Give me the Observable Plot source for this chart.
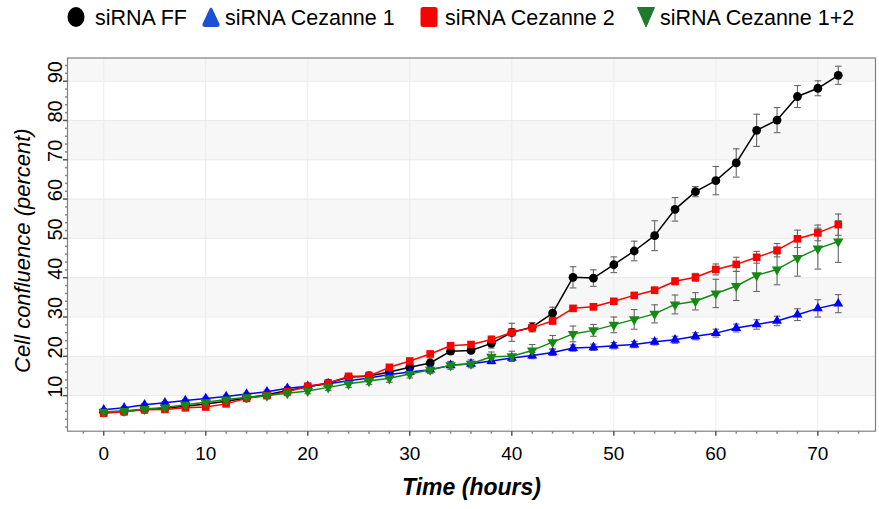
<!DOCTYPE html>
<html><head><meta charset="utf-8">
<script src="https://cdn.jsdelivr.net/npm/d3@7"></script>
<script src="https://cdn.jsdelivr.net/npm/@observablehq/plot@0.6"></script>
<style>
body{margin:0;background:#fff;font-family:"Liberation Sans",Arial,sans-serif;}
#legend{height:36px;position:relative;width:879px;}
#legend .sw{position:absolute;top:7px;}
#legend .tx{position:absolute;top:0;height:36px;line-height:36px;font-size:21.5px;color:#000;white-space:nowrap;}
</style></head><body>
<div id="legend"></div>
<div id="chart"></div>
<script>
// ---- data ----
const times = [0,2,4,6,8,10,12,14,16,18,20,22,24,26,28,30,32,34,36,38,40,42,44,46,48,50,52,54,56,58,60,62,64,66,68,70,72];
const seriesNames = ["siRNA FF","siRNA Cezanne 1","siRNA Cezanne 2","siRNA Cezanne 1+2"];
const ffValues = [5.8,6.0,6.5,6.8,7.3,7.9,8.6,9.4,10.2,11.3,12.2,13.2,14.7,15.0,16.0,17.2,18.3,21.3,21.5,23.3,26.1,27.4,31.0,40.1,39.9,43.3,46.8,50.7,57.4,61.9,64.7,69.2,77.5,80.1,86.1,88.2,91.5];
const ffErrors = [0.3,0.3,0.3,0.3,0.3,0.3,0.3,0.3,0.4,0.4,0.4,0.6,0.8,1.0,0.8,0.8,1.0,0.8,0.8,1.2,2.3,1.2,1.5,2.7,2.1,2.0,2.5,3.8,3.0,1.3,3.6,3.6,4.1,3.2,2.8,1.9,2.3];
const cez1Values = [6.4,6.9,7.7,8.2,8.75,9.3,9.8,10.4,11.0,11.9,12.4,13.0,13.8,14.5,15.4,16.0,16.6,17.7,18.1,18.8,19.6,20.2,21.0,22.1,22.3,22.7,23.0,23.7,24.2,25.1,25.9,27.2,28.1,29.0,30.6,32.2,33.4];
const cez1Errors = [0.3,0.3,0.3,0.3,0.3,0.3,0.3,0.3,0.4,0.4,0.4,0.5,0.5,0.5,0.5,0.5,0.6,0.6,0.6,0.7,0.8,0.8,0.8,0.8,0.8,0.8,0.8,0.8,0.9,0.9,1.0,1.0,1.2,1.2,1.5,2.2,2.3];
const cez2Values = [5.5,5.9,6.4,6.5,6.9,7.1,7.9,9.3,10.0,11.0,12.4,13.2,14.9,15.0,17.2,18.8,20.6,22.7,23.0,24.3,26.1,27.3,29.0,32.2,32.6,34.0,35.5,36.8,39.1,40.1,42.1,43.4,45.2,47.0,49.9,51.4,53.5];
const cez2Errors = [0.3,0.3,0.3,0.3,0.3,0.3,0.3,0.3,0.3,0.4,0.4,0.5,0.6,0.6,0.6,0.7,0.7,0.7,0.7,0.8,0.9,0.8,0.8,0.7,0.8,0.7,0.7,0.8,0.9,1.0,1.4,1.8,1.5,1.7,2.2,2.0,2.7];
const cez12Values = [5.9,6.1,6.6,7.0,7.7,8.3,9.0,9.6,10.0,10.6,11.2,12.1,13.0,13.7,14.4,15.5,16.6,17.7,18.1,19.9,20.0,21.5,23.6,25.7,26.6,28.0,29.4,30.8,33.2,34.0,36.0,37.9,40.6,42.1,45.0,47.4,49.2];
const cez12Errors = [0.3,0.3,0.3,0.3,0.4,0.4,0.4,0.5,0.5,0.6,0.7,0.8,0.9,0.9,1.0,1.0,1.0,1.0,1.0,1.2,1.3,1.5,1.7,2.0,1.5,2.0,2.5,2.3,2.4,2.2,3.6,3.7,4.1,3.9,4.6,5.2,5.3];
const xTicks = [0,10,20,30,40,50,60,70];
const yTicks = [10,20,30,40,50,60,70,80,90];
const bandLo = [10,30,50,70,90];
const bandHi = [20,40,60,80,100];

const colors = ["#000000","#0000ff","#ff0000","#138a13"];
const legendColors = ["#000000","#1a4fd6","#ff0000","#1f7a2e"];

const valueSets = [ffValues,cez1Values,cez2Values,cez12Values];
const errorSets = [ffErrors,cez1Errors,cez2Errors,cez12Errors];
const rows = [];
seriesNames.forEach((s,k)=>times.forEach((t,i)=>rows.push({s, t, v: valueSets[k][i], e: errorSets[k][i]})));

// ---- symbols ----
const sqrt3 = Math.sqrt(3);
const triDown = {draw(ctx,size){const y=-Math.sqrt(size/(sqrt3*3)); ctx.moveTo(0,-y*2); ctx.lineTo(-sqrt3*y,y); ctx.lineTo(sqrt3*y,y); ctx.closePath();}};
const capSym = {draw(ctx,size){ctx.moveTo(-3.3,0); ctx.lineTo(3.3,0);}};
const vTick = (len)=>({draw(ctx){ctx.moveTo(0,0); ctx.lineTo(0,len);}});
const hTick = (len)=>({draw(ctx){ctx.moveTo(0,0); ctx.lineTo(-len,0);}});

const symbols = ["circle","triangle","square",triDown];
const radii = [4.4,3.7,4.3,3.9];
const font = "Liberation Sans, Arial, sans-serif";
const minorX = d3.range(-2,76,2).filter(d=>d%10!==0);
const minorY = d3.range(2,96,2).filter(d=>d%10!==0);

const marks = [
  Plot.rect(bandLo.map((d,i)=>({lo:d,hi:bandHi[i]})), {y1:"lo", y2:"hi", fill:"#f7f7f7", clip:true}),
  Plot.ruleY(yTicks, {stroke:"#e9e9e9"}),
  Plot.ruleX(xTicks, {stroke:"#ececec"}),
  Plot.frame({stroke:"#808080", strokeWidth:1.2}),
  // x ticks
  Plot.dot(minorX, {x:d=>d, frameAnchor:"bottom", symbol:vTick(2.5), stroke:"#888", fill:"none"}),
  Plot.dot(xTicks, {x:d=>d, frameAnchor:"bottom", symbol:vTick(4.5), stroke:"#555", fill:"none"}),
  // y ticks
  Plot.dot(minorY, {y:d=>d, frameAnchor:"left", symbol:hTick(2.5), stroke:"#888", fill:"none"}),
  Plot.dot(yTicks, {y:d=>d, frameAnchor:"left", symbol:hTick(4.5), stroke:"#555", fill:"none"}),
  // error bars
  Plot.ruleX(rows, {x:"t", y1:d=>d.v-d.e, y2:d=>d.v+d.e, stroke:"#666", strokeWidth:1.1}),
  Plot.dot(rows, {x:"t", y:d=>d.v+d.e, symbol:capSym, stroke:"#666", fill:"none", strokeWidth:1.1}),
  Plot.dot(rows, {x:"t", y:d=>d.v-d.e, symbol:capSym, stroke:"#666", fill:"none", strokeWidth:1.1}),
];
seriesNames.forEach((s,k)=>{
  const data = rows.filter(d=>d.s===s);
  marks.push(Plot.line(data, {x:"t", y:"v", stroke:colors[k], strokeWidth:1.5}));
  marks.push(Plot.dot(data, {x:"t", y:"v", symbol:symbols[k], r:radii[k], fill:colors[k], stroke:"none"}));
});
marks.push(
  Plot.text(xTicks, {x:d=>d, text:d=>String(d), frameAnchor:"bottom", dy:23, lineAnchor:"middle", textAnchor:"middle", fontSize:19, fontFamily:font, fill:"#000"}),
  Plot.text(yTicks, {y:d=>d, text:d=>String(d), frameAnchor:"left", dx:-12, dy:-9, rotate:-90, lineAnchor:"middle", textAnchor:"middle", fontSize:20, fontFamily:font, fill:"#000"}),
  Plot.text(["Time (hours)"], {text:d=>d, frameAnchor:"bottom", dy:56, lineAnchor:"middle", textAnchor:"middle", fontSize:23, fontWeight:"bold", fontStyle:"italic", fontFamily:font, fill:"#000"}),
  Plot.text(["Cell confluence (percent)"], {text:d=>d, frameAnchor:"left", dx:-45, dy:6, rotate:-90, lineAnchor:"middle", textAnchor:"middle", fontSize:22, fontStyle:"italic", fontFamily:font, fill:"#000"})
);

const chart = Plot.plot({
  width:879, height:473,
  marginTop:21.5, marginBottom:78.3, marginLeft:67, marginRight:4,
  x:{domain:[-3.55,75.65], axis:null},
  y:{domain:[0.95,95.9], axis:null},
  style:{fontFamily:font, background:"#fff", overflow:"visible"},
  marks
});
document.getElementById("chart").appendChild(chart);

// ---- legend ----
const lg = document.getElementById("legend");
const swatchX = [67,202,420,637];
const textX = [95,225,445,660];
const shapes = [
  c=>`<ellipse cx="9" cy="10" rx="8.5" ry="10" fill="${c}"/>`,
  c=>`<path d="M9 0.5 Q10 0.5 11 3 L17.5 17 Q18 20 15 20 L3 20 Q0 20 0.5 17 L7 3 Q8 0.5 9 0.5Z" fill="${c}"/>`,
  c=>`<rect x="0.5" y="0" width="17" height="20" rx="2.5" fill="${c}"/>`,
  c=>`<path d="M0.5 0.5 L17.5 0.5 L9 20 Z" fill="${c}" stroke="${c}" stroke-linejoin="round"/>`
];
seriesNames.forEach((s,k)=>{
  const sw = document.createElement("div");
  sw.className="sw"; sw.style.left=swatchX[k]+"px";
  sw.innerHTML = `<svg width="18" height="21" viewBox="0 0 18 21">${shapes[k](legendColors[k])}</svg>`;
  lg.appendChild(sw);
  const tx = document.createElement("div");
  tx.className="tx"; tx.style.left=textX[k]+"px"; tx.textContent=s;
  lg.appendChild(tx);
});
</script></body></html>
